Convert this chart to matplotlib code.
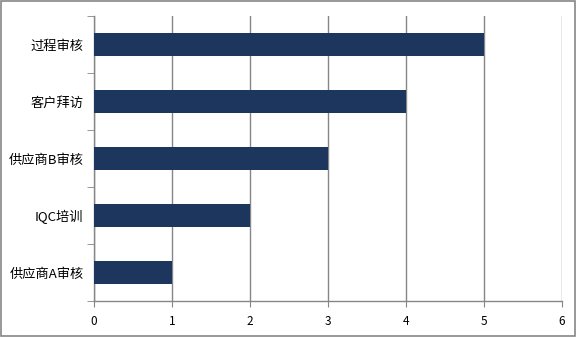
import numpy as np
import matplotlib.pyplot as plt
from matplotlib.patches import Rectangle

plt.rcParams['font.family'] = ['Noto Sans CJK SC', 'DejaVu Sans']

categories = ['供应商A审核', 'IQC培训', '供应商B审核', '客户拜访', '过程审核']
values = [1, 2, 3, 4, 5]
x_ticks = [0, 1, 2, 3, 4, 5, 6]

grey = '#868686'
bar_color = '#1C365D'

fig = plt.figure(figsize=(5.77, 3.37), dpi=100)
ax = fig.add_axes([94 / 577, 1 - 301 / 337, (562 - 94) / 577, (301 - 16) / 337])

pos = np.arange(len(categories))
ax.barh(pos, values, height=0.4, color=bar_color, zorder=3)

ax.set_xlim(0, 6)
ax.set_ylim(-0.5, len(categories) - 0.5)
ax.set_xticks(x_ticks)
ax.set_xticklabels([str(t) for t in x_ticks], fontsize=8.5)
ax.set_yticks(pos)
ax.set_yticklabels(categories, fontsize=9.5)
ax.set_yticks(np.arange(-0.5, len(categories)), minor=True)
ax.tick_params(axis='y', which='major', length=0, pad=7.5)
ax.tick_params(axis='y', which='minor', length=5, color=grey, direction='out')
ax.tick_params(axis='x', length=4, color=grey, direction='out', pad=6)

ax.grid(axis='x', color=grey, linewidth=1, zorder=0)
for s in ['top', 'right']:
    ax.spines[s].set_visible(False)
for s in ['left', 'bottom']:
    ax.spines[s].set_color(grey)
    ax.spines[s].set_linewidth(1)

fig.patches.append(Rectangle((0.002, 0.003), 0.995, 0.994, transform=fig.transFigure,
                             fill=False, edgecolor=grey, linewidth=1.2))

fig.savefig('out.png', dpi=100)
